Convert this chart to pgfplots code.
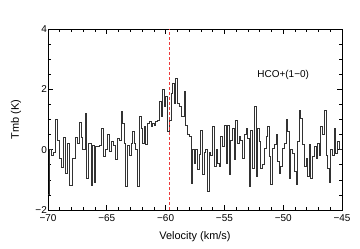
\documentclass[border=0pt]{standalone}
\usepackage{fontspec}
\setmainfont{Liberation Sans}
\usepackage{pgfplots}
\pgfplotsset{compat=1.18}
\definecolor{dashred}{RGB}{235,60,60}
\definecolor{specgray}{RGB}{50,50,50}
\begin{document}
\begin{tikzpicture}
\useasboundingbox (-48bp,-39bp) rectangle (312bp,210bp);
\begin{axis}[
  scale only axis, width=294bp, height=181bp,
  xmin=-70, xmax=-45, ymin=-2, ymax=4,
  xtick={-70,-65,-60,-55,-50,-45},
  xticklabels={−70,−65,−60,−55,−50,−45},
  ytick={-2,0,2,4}, yticklabels={−2,0,2,4},
  minor x tick num=4, minor y tick num=3,
  tick align=inside, major tick length=5bp, minor tick length=3bp,
  axis line style={line width=0.8bp},
  every tick/.style={black, line width=0.6bp},
  ticklabel style={font=\fontsize{10}{12}\selectfont},
  xticklabel style={yshift=-1.5bp},
  yticklabel style={inner xsep=1bp},
  xlabel={Velocity (km/s)}, ylabel={Tmb (K)},
  label style={font=\fontsize{11}{13}\selectfont},
  xlabel style={at={([yshift=-27bp]axis description cs:0.5,0)}, anchor=center},
  ylabel style={at={([xshift=-32bp]axis description cs:0,0.5)}, anchor=center},
  clip=true,
]
\addplot[const plot, draw=specgray, line width=1bp] coordinates {
(-70.00,-1.5) (-69.85,0.0) (-69.70,-0.2) (-69.55,-0.1) (-69.37,1.0) (-69.18,0.3)
(-69.04,-0.3) (-68.81,-0.6) (-68.70,0.4) (-68.53,-0.8) (-68.33,0.2) (-68.13,-1.2)
(-67.90,-0.3) (-67.68,0.4) (-67.48,0.2) (-67.34,0.9) (-67.19,0.4) (-67.05,0.0)
(-66.83,1.2) (-66.71,-0.95) (-66.54,0.2) (-66.34,-1.2) (-66.20,0.15) (-66.06,-1.1)
(-65.92,0.1) (-65.78,0.1) (-65.63,0.15) (-65.49,0.7) (-65.29,-0.23) (-65.12,0.0)
(-64.93,0.49) (-64.78,-0.07) (-64.64,0.26) (-64.44,0.15) (-64.27,-0.34) (-64.08,0.38)
(-63.93,0.32) (-63.79,1.26) (-63.65,0.87) (-63.51,0.21) (-63.37,-1.22) (-63.23,0.15)
(-63.08,-0.18) (-62.94,0.21) (-62.80,0.6) (-62.66,0.21) (-62.52,0.0) (-62.38,-1.22)
(-62.23,1.1) (-62.09,0.7) (-61.95,0.21) (-61.81,0.76) (-61.67,0.16) (-61.53,0.87)
(-61.38,0.93) (-61.24,0.76) (-61.10,0.87) (-60.96,0.81) (-60.82,0.93) (-60.68,0.98)
(-60.53,1.59) (-60.39,1.09) (-60.25,1.98) (-60.11,1.43) (-59.97,1.76) (-59.82,0.6)
(-59.68,0.98) (-59.54,1.87) (-59.40,2.2) (-59.26,1.54) (-59.12,2.36) (-58.98,1.54)
(-58.83,1.43) (-58.69,1.09) (-58.55,1.09) (-58.41,1.92) (-58.27,0.81) (-58.12,0.49)
(-57.98,0.43) (-57.84,-1.11) (-57.70,-0.01) (-57.56,-0.45) (-57.42,0.0) (-57.27,-0.66)
(-57.13,-0.17) (-56.99,0.65) (-56.85,-0.82) (-56.71,-0.1) (-56.57,0.0) (-56.42,-1.39)
(-56.28,-0.1) (-56.14,-0.2) (-56.00,0.77) (-55.86,-0.56) (-55.71,0.0) (-55.57,-0.45)
(-55.43,-0.56) (-55.29,0.43) (-55.15,0.1) (-55.01,0.81) (-54.86,-0.45) (-54.72,0.81)
(-54.58,-0.82) (-54.44,0.32) (-54.30,0.71) (-54.16,-0.34) (-54.02,0.98) (-53.87,0.22)
(-53.73,0.43) (-53.59,0.32) (-53.45,-0.29) (-53.31,0.49) (-53.16,0.71) (-53.02,0.38)
(-52.88,-1.22) (-52.74,0.65) (-52.60,-0.62) (-52.45,1.42) (-52.31,-0.9) (-52.17,0.71)
(-52.03,0.26) (-51.89,-0.62) (-51.75,-0.5) (-51.60,0.05) (-51.46,0.43) (-51.32,0.76)
(-51.18,-0.23) (-51.04,-1.17) (-50.90,0.05) (-50.75,0.16) (-50.61,0.49) (-50.47,-0.4)
(-50.33,-0.78) (-50.19,-0.56) (-50.05,0.05) (-49.91,0.21) (-49.76,1.0) (-49.62,0.6)
(-49.48,-0.95) (-49.34,0.0) (-49.20,-0.12) (-49.06,-0.73) (-48.91,-1.17) (-48.77,0.26)
(-48.63,1.31) (-48.49,1.04) (-48.35,0.16) (-48.20,-0.56) (-48.06,-0.29) (-47.92,-0.9)
(-47.78,0.16) (-47.64,-0.95) (-47.50,-0.23) (-47.35,0.1) (-47.21,-0.29) (-47.07,0.21)
(-46.93,-0.18) (-46.79,0.76) (-46.65,0.49) (-46.51,1.31) (-46.36,-0.18) (-46.22,-0.62)
(-46.08,-1.1) (-45.94,0.0) (-45.80,-0.18) (-45.66,0.71) (-45.52,-0.12) (-45.37,0.26)
(-45.23,0.0) (-45.00,0.0)
};
\addplot[draw=dashred, line width=0.9bp, dash pattern=on 3bp off 2bp] coordinates {(-59.68,-2) (-59.68,4)};
\node[font=\fontsize{10}{12}\selectfont] at (axis cs:-50,2.47) {HCO+(1−0)};
\end{axis}
\end{tikzpicture}
\end{document}
